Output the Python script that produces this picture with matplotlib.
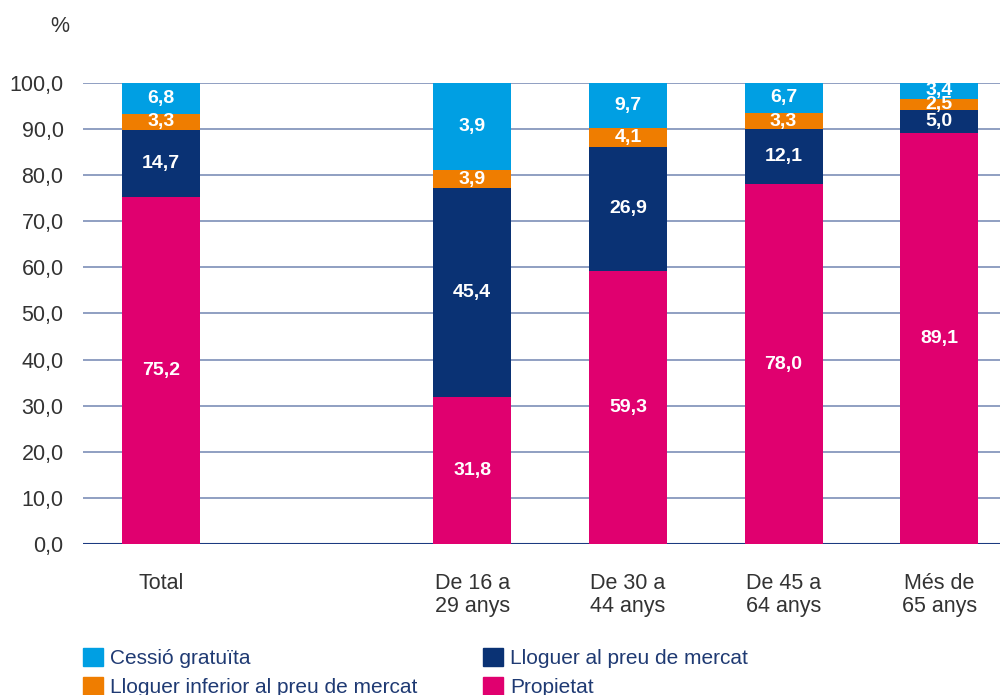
"""
Stacked bars: tenure regime by age group.
"""

import matplotlib.pyplot as plt
from matplotlib.patches import Patch

categories = ["Total", "De 16 a\n29 anys", "De 30 a\n44 anys", "De 45 a\n64 anys", "Més de\n65 anys"]
positions = [0, 2, 3, 4, 5]

propietat = [75.2, 31.8, 59.3, 78.0, 89.1]
lloguer_mercat = [14.7, 45.4, 26.9, 12.1, 5.0]
lloguer_inferior = [3.3, 3.9, 4.1, 3.3, 2.5]
cessio = [6.8, 18.9, 9.7, 6.7, 3.4]
# printed values (the 16-29 label in the source reads 3,9)
cessio_labels = [6.8, 3.9, 9.7, 6.7, 3.4]

series = [
    ("Propietat", propietat, propietat, "#e0006f"),
    ("Lloguer al preu de mercat", lloguer_mercat, lloguer_mercat, "#0a3274"),
    ("Lloguer inferior al preu de mercat", lloguer_inferior, lloguer_inferior, "#ef7d00"),
    ("Cessió gratuïta", cessio, cessio_labels, "#009fe3"),
]

FONT = "Liberation Sans"
GRID = "#7d8fb8"
TEXT = "#333333"

fig = plt.figure(figsize=(10.04, 6.95), dpi=100)
ax = fig.add_axes([0.0827, 0.2173, 0.9133, 0.6633])

for y in range(10, 101, 10):
    ax.axhline(y, color=GRID, lw=1.2, zorder=1)
ax.axhline(0, color="#1c3a80", lw=1.5, zorder=1)

bottom = [0.0] * len(positions)
for name, vals, labels, color in series:
    ax.bar(positions, vals, bottom=bottom, width=0.5, color=color, zorder=2, label=name)
    for x, b, v, lab in zip(positions, bottom, vals, labels):
        ax.text(x, b + v / 2, f"{lab:.1f}".replace(".", ","), ha="center", va="center",
                color="white", fontsize=14, fontweight="bold", family=FONT, zorder=3)
    bottom = [b + v for b, v in zip(bottom, vals)]

ax.set_xlim(-0.5, 5.39)
ax.set_ylim(0, 100)
ax.set_yticks(range(0, 101, 10))
ax.set_yticklabels([f"{v},0" for v in range(0, 101, 10)], family=FONT, fontsize=15.5, color=TEXT)
ax.set_xticks(positions)
ax.set_xticklabels(categories, family=FONT, fontsize=15.5, color=TEXT, linespacing=1.12)
ax.tick_params(length=0, axis="y", pad=14)
ax.tick_params(length=0, axis="x", pad=21)
for s in ax.spines.values():
    s.set_visible(False)

fig.text(0.06, 0.962, "%", family=FONT, fontsize=15.5, color=TEXT, ha="center", va="center")

handles = {n: Patch(color=c, label=n) for n, _, _, c in series}
legend_cols = [["Cessió gratuïta", "Lloguer inferior al preu de mercat"],
               ["Lloguer al preu de mercat", "Propietat"]]
for col, x0 in zip(legend_cols, [0.0827, 0.481]):
    fig.legend([handles[n] for n in col], col, loc="upper left",
               bbox_to_anchor=(x0, 0.068), frameon=False,
               prop={"family": FONT, "size": 15}, labelcolor="#1f3a73",
               handlelength=0.95, handleheight=0.95, handletextpad=0.35,
               labelspacing=0.45, borderaxespad=0, borderpad=0)

fig.savefig("out.png", dpi=100)
